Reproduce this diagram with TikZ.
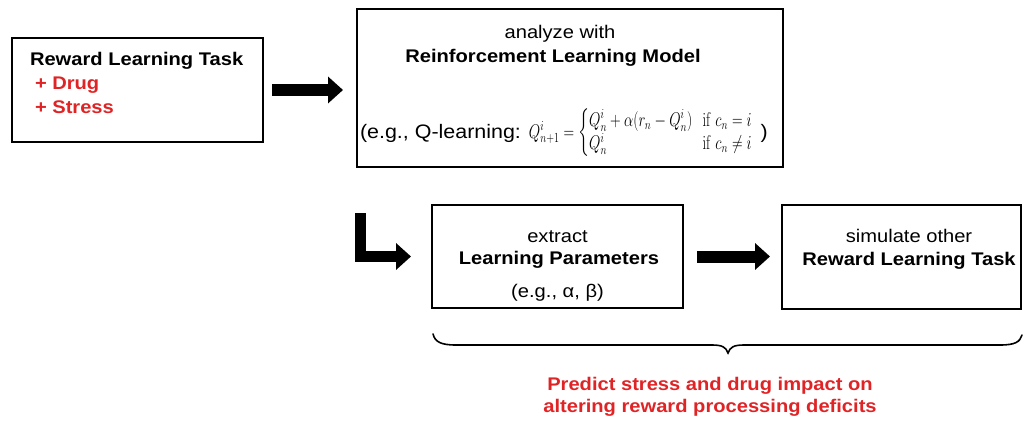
\documentclass[tikz,border=0pt]{standalone}
\usepackage[no-math]{fontspec}
\setmainfont{Liberation Sans}[FakeStretch=1.1]
\usepackage{amsmath}
\usetikzlibrary{arrows.meta}
\definecolor{accred}{RGB}{224,36,38}
\tikzset{
  every node/.style={font=\fontsize{18.3}{22}\selectfont, inner sep=0pt, outer sep=0pt},
  box/.style={draw=black, line width=2.6pt, fill=white, rectangle},
  bigarrow/.style={line width=12pt, -{Triangle[length=15pt,width=26pt]}, line cap=butt, line join=miter},
  txt/.style={anchor=base},
  txtl/.style={anchor=base west},
  redtxt/.style={anchor=base, text=accred, font=\fontsize{18.3}{22}\selectfont\bfseries},
  bracepath/.style={line width=1.6pt, line cap=round}
}
\begin{document}
\begin{tikzpicture}[x=1pt,y=-1pt]
\useasboundingbox (0,0) rectangle (1024,420);
% boxes
\node[box, minimum width=251pt, minimum height=104pt] (b1) at (137.5,90) {};
\node[box, minimum width=426pt, minimum height=158pt] (b2) at (570,88) {};
\node[box, minimum width=251pt, minimum height=103pt] (b3) at (557.5,256.5) {};
\node[box, minimum width=239pt, minimum height=104pt] (b4) at (901.5,257) {};
% box 1 text
\node[txtl, font=\fontsize{18.3}{22}\selectfont\bfseries] (t1a) at (30,66) {Reward Learning Task};
\node[txtl, text=accred, font=\fontsize{18.3}{22}\selectfont\bfseries] (t1b) at (35,89) {+ Drug};
\node[txtl, text=accred, font=\fontsize{18.3}{22}\selectfont\bfseries] (t1c) at (35,113) {+ Stress};
% box 2 text
\node[txt] (t2a) at (560,38) {analyze with};
\node[txt, font=\fontsize{18.3}{22}\selectfont\bfseries] (t2b) at (553,63) {Reinforcement Learning Model};
\node[txtl, font=\fontsize{19.5}{22}\selectfont] (t2c) at (360,138) {(e.g., Q-learning: \scalebox{0.85}[1.15]{\fontsize{16.5}{19}\selectfont\renewcommand{\arraystretch}{1.05}$Q^{i}_{n+1}=\left\{\begin{array}{@{}l@{\hspace{12pt}}l@{}} Q^{i}_{n}+\alpha(r_{n}-Q^{i}_{n}) & \mathrm{if}\ c_{n}=i\\ Q^{i}_{n} & \mathrm{if}\ c_{n}\neq i\end{array}\right.$}\hspace{8pt})};
% box 3 text
\node[txt] (t3a) at (557.5,242) {extract};
\node[txt, font=\fontsize{18.3}{22}\selectfont\bfseries] (t3b) at (559,264) {Learning Parameters};
\node[txt] (t3c) at (557.5,297) {(e.g., α, β)};
% box 4 text
\node[txt] (t4a) at (909,242) {simulate other};
\node[txt, font=\fontsize{18.3}{22}\selectfont\bfseries] (t4b) at (909,265) {Reward Learning Task};
% arrows
\draw[bigarrow, shorten <=9pt, shorten >=14pt] (b1.east) -- (b1.east -| b2.west);
\draw[bigarrow, line width=11pt] ([xshift=3pt,yshift=-46pt]b2.south west) |- ([xshift=-21pt]b3.west);
\draw[bigarrow, shorten <=14pt, shorten >=12pt] (b3.east) -- (b3.east -| b4.west);
% brace
\draw[bracepath] (433,334) .. controls (435,342) and (441,345) .. (456,345) -- (712,345)
  .. controls (722,345) and (726,347) .. (728,353)
  .. controls (730,347) and (734,345) .. (744,345) -- (1000,345)
  .. controls (1015,345) and (1020,342) .. (1022,335);
% red conclusion
\node[redtxt] (r1) at (710,390) {Predict stress and drug impact on};
\node[redtxt] (r2) at (710,412) {altering reward processing deficits};
\end{tikzpicture}
\end{document}
